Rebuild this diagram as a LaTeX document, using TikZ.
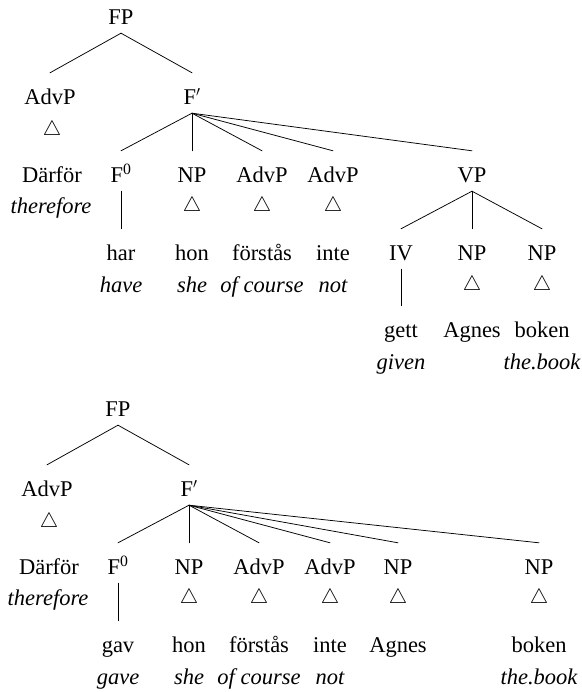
\documentclass[tikz,border=0pt]{standalone}
\usepackage{fontspec}
\setmainfont{Liberation Serif}
\newcommand\treeedge[2]{\draw[edge] ([yshift=-8.5pt]#1.south) -- ([yshift=16.5pt]#2.north);}
\begin{document}
\begin{tikzpicture}[x=1pt,y=-1pt,
  lab/.style={inner sep=0pt, text height=15pt, text depth=0pt, anchor=center, font=\fontsize{22.5}{27}\selectfont},
  gl/.style={lab, font=\fontsize{22.5}{27}\selectfont\itshape},
  tri/.style={inner sep=0pt, anchor=center, font=\fontsize{20.74}{24}\selectfont},
  edge/.style={line width=0.75pt, line cap=round}]
\useasboundingbox (0,0) rectangle (581,692);

% ---------- Tree 1 ----------
\node[lab] (aFP) at (121,17) {FP};
\node[lab] (aAdvP) at (50,97) {AdvP};
\node[lab] (aFb) at (192,97) {F$'$};
\node[tri] (aT0) at (52,130) {$\triangle$};
\node[lab] (aDarfor) at (52,175) {Därför};
\node[gl] (aTherefore) at (51,206) {therefore};
\node[lab] (aF0) at (121,175) {F\textsuperscript{0}};
\node[lab] (aNP1) at (192,175) {NP};
\node[lab] (aAdv1) at (262,175) {AdvP};
\node[lab] (aAdv2) at (333,175) {AdvP};
\node[lab] (aVP) at (472,175) {VP};
\node[tri] (aT1) at (192,206) {$\triangle$};
\node[tri] (aT2) at (262,206) {$\triangle$};
\node[tri] (aT3) at (333,206) {$\triangle$};
\node[lab] (aHar) at (121,253) {har};
\node[lab] (aHon) at (192,253) {hon};
\node[lab] (aForstas) at (262,253) {förstås};
\node[lab] (aInte) at (333,253) {inte};
\node[lab] (aIV) at (401,253) {IV};
\node[lab] (aNP2) at (472,253) {NP};
\node[lab] (aNP3) at (542,253) {NP};
\node[gl] (aHave) at (121,285) {have};
\node[gl] (aShe) at (192,285) {she};
\node[gl] (aOfc) at (262,285) {of course};
\node[gl] (aNot) at (333,285) {not};
\node[tri] (aT4) at (472,285) {$\triangle$};
\node[tri] (aT5) at (542,285) {$\triangle$};
\node[lab] (aGett) at (401,330) {gett};
\node[lab] (aAgnes) at (472,330) {Agnes};
\node[lab] (aBoken) at (542,330) {boken};
\node[gl] (aGiven) at (401,362) {given};
\node[gl] (aBook) at (542,362) {the.book};

\treeedge{aFP}{aAdvP}
\treeedge{aFP}{aFb}
\treeedge{aFb}{aF0}
\treeedge{aFb}{aNP1}
\treeedge{aFb}{aAdv1}
\treeedge{aFb}{aAdv2}
\treeedge{aFb}{aVP}
\treeedge{aF0}{aHar}
\treeedge{aVP}{aIV}
\treeedge{aVP}{aNP2}
\treeedge{aVP}{aNP3}
\treeedge{aIV}{aGett}

% ---------- Tree 2 ----------
\node[lab] (bFP) at (118,409) {FP};
\node[lab] (bAdvP) at (47,489) {AdvP};
\node[lab] (bFb) at (189,489) {F$'$};
\node[tri] (bT0) at (49,522) {$\triangle$};
\node[lab] (bDarfor) at (49,567) {Därför};
\node[gl] (bTherefore) at (48,598) {therefore};
\node[lab] (bF0) at (118,567) {F\textsuperscript{0}};
\node[lab] (bNP1) at (189,567) {NP};
\node[lab] (bAdv1) at (259,567) {AdvP};
\node[lab] (bAdv2) at (330,567) {AdvP};
\node[lab] (bNP2) at (398,567) {NP};
\node[lab] (bNP3) at (539,567) {NP};
\node[tri] (bT1) at (189,598) {$\triangle$};
\node[tri] (bT2) at (259,598) {$\triangle$};
\node[tri] (bT3) at (330,598) {$\triangle$};
\node[tri] (bT4) at (398,598) {$\triangle$};
\node[tri] (bT5) at (539,598) {$\triangle$};
\node[lab] (bGav) at (118,645) {gav};
\node[lab] (bHon) at (189,645) {hon};
\node[lab] (bForstas) at (259,645) {förstås};
\node[lab] (bInte) at (330,645) {inte};
\node[lab] (bAgnes) at (398,645) {Agnes};
\node[lab] (bBoken) at (539,645) {boken};
\node[gl] (bGave) at (118,677) {gave};
\node[gl] (bShe) at (189,677) {she};
\node[gl] (bOfc) at (259,677) {of course};
\node[gl] (bNot) at (330,677) {not};
\node[gl] (bBook) at (539,677) {the.book};

\treeedge{bFP}{bAdvP}
\treeedge{bFP}{bFb}
\treeedge{bFb}{bF0}
\treeedge{bFb}{bNP1}
\treeedge{bFb}{bAdv1}
\treeedge{bFb}{bAdv2}
\treeedge{bFb}{bNP2}
\treeedge{bFb}{bNP3}
\treeedge{bF0}{bGav}
\end{tikzpicture}
\end{document}
